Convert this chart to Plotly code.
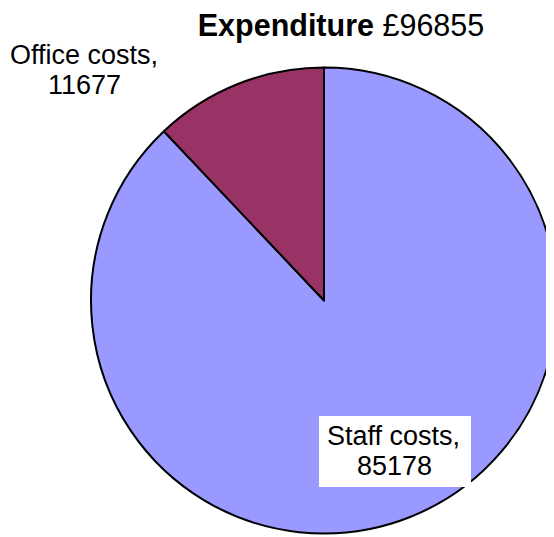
import plotly.graph_objects as go

# ---- data ----
labels = ["Staff costs", "Office costs"]
values = [85178, 11677]
colors = ["#9999FF", "#993366"]
title_bold = "Expenditure"
currency = "£"

W, H = 554, 537
OFF = 8  # page body margin
FONT = "Arial, Liberation Sans, sans-serif"

total = sum(values)


def px(x):
    return (x - OFF) / W


def py(y):
    return 1 - (y - OFF) / H


fig = go.Figure(
    go.Pie(
        labels=labels,
        values=values,
        sort=False,
        direction="clockwise",
        rotation=0,
        textinfo="none",
        hoverinfo="label+value",
        marker=dict(colors=colors, line=dict(color="black", width=2)),
        domain=dict(x=[px(91), px(557)], y=[py(533.5), py(67.5)]),
        showlegend=False,
    )
)

annotations = []
# Office costs label (outside, top-left), two lines
annotations.append(dict(x=px(83.5), y=py(55), text=f"{labels[1]},",
                        showarrow=False, xanchor="center", yanchor="middle",
                        font=dict(size=27, color="black", family=FONT)))
annotations.append(dict(x=px(84), y=py(85.5), text=f"{values[1]}",
                        showarrow=False, xanchor="center", yanchor="middle",
                        font=dict(size=27, color="black", family=FONT)))
# Staff costs label (inside with white box)
annotations.append(dict(x=px(393.5), y=py(435.5), text=f"{labels[0]},",
                        showarrow=False, xanchor="center", yanchor="middle",
                        font=dict(size=27, color="black", family=FONT)))
annotations.append(dict(x=px(394), y=py(465.5), text=f"{values[0]}",
                        showarrow=False, xanchor="center", yanchor="middle",
                        font=dict(size=27, color="black", family=FONT)))

shapes = [dict(type="rect", xref="paper", yref="paper",
               x0=px(319), x1=px(471), y0=py(487), y1=py(416),
               fillcolor="white", line=dict(width=0), layer="above")]

fig.update_layout(
    width=W,
    height=H,
    margin=dict(l=0, r=0, t=0, b=0),
    paper_bgcolor="white",
    plot_bgcolor="white",
    title=dict(text=f"<b>{title_bold}</b> {currency}{total}",
               x=px(341), y=py(25), xanchor="center", yanchor="middle",
               font=dict(size=30.5, color="black", family=FONT)),
    annotations=annotations,
    shapes=shapes,
)

fig.write_html("out.html")
